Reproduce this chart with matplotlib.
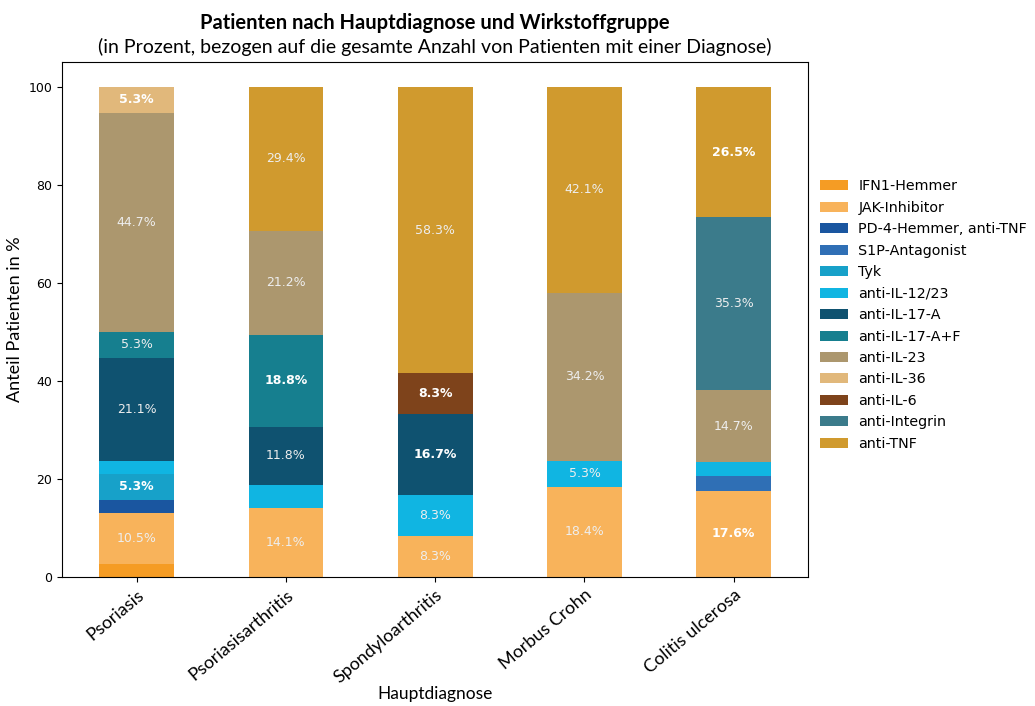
import matplotlib.pyplot as plt
import numpy as np

# Hauptdiagnosen (x-Achse)
diagnosen = ["Psoriasis", "Psoriasisarthritis", "Spondyloarthritis", "Morbus Crohn", "Colitis ulcerosa"]

# Wirkstoffgruppen, Reihenfolge von unten nach oben
gruppen = [
    "IFN1-Hemmer", "JAK-Inhibitor", "PD-4-Hemmer, anti-TNF", "S1P-Antagonist", "Tyk",
    "anti-IL-12/23", "anti-IL-17-A", "anti-IL-17-A+F", "anti-IL-23", "anti-IL-36",
    "anti-IL-6", "anti-Integrin", "anti-TNF",
]

# Anteile in % je Gruppe (Werte je Diagnose)
ifn1 = [2.6, 0, 0, 0, 0]
jak = [10.5, 14.1, 8.3, 18.4, 17.6]
pd4 = [2.6, 0, 0, 0, 0]
s1p = [0, 0, 0, 0, 2.9]
tyk = [5.3, 0, 0, 0, 0]
il12_23 = [2.6, 4.7, 8.3, 5.3, 2.9]
il17a = [21.1, 11.8, 16.7, 0, 0]
il17af = [5.3, 18.8, 0, 0, 0]
il23 = [44.7, 21.2, 0, 34.2, 14.7]
il36 = [5.3, 0, 0, 0, 0]
il6 = [0, 0, 8.3, 0, 0]
integrin = [0, 0, 0, 0, 35.3]
tnf = [0, 29.4, 58.3, 42.1, 26.5]

werte = [ifn1, jak, pd4, s1p, tyk, il12_23, il17a, il17af, il23, il36, il6, integrin, tnf]

farben = [
    "#f59c24", "#f8b35b", "#1a56a0", "#2f6fb5", "#17a1c9", "#10b5e2", "#0f5270",
    "#167f8f", "#ac976e", "#e1b87b", "#7e431b", "#3b7b8b", "#d09a2e",
]

# welche Beschriftungen fett dargestellt sind (Gruppe, Diagnose)
fett = {(9, 0), (4, 0), (7, 1), (10, 2), (6, 2), (12, 4), (1, 4)}

fig, ax = plt.subplots(figsize=(10.35, 7.06), dpi=100)
fig.subplots_adjust(left=0.06, right=0.781, top=0.912, bottom=0.183)

x = np.arange(len(diagnosen))
bottom = np.zeros(len(diagnosen))
for gi, (name, vals, col) in enumerate(zip(gruppen, werte, farben)):
    vals = np.array(vals, dtype=float)
    ax.bar(x, vals, width=0.5, bottom=bottom, color=col, label=name)
    for di, v in enumerate(vals):
        if v >= 5:
            bold = (gi, di) in fett
            ax.text(x[di], bottom[di] + v / 2, f"{v:.1f}%", ha="center", va="center",
                    fontsize=9, color="white" if bold else "#eeeeee",
                    fontweight="bold" if bold else "normal")
    bottom += vals

ax.set_xlim(-0.5, len(diagnosen) - 0.5)
ax.set_ylim(0, 105)
ax.set_yticks([0, 20, 40, 60, 80, 100])
ax.tick_params(axis="y", labelsize=9)
ax.set_xticks(x)
ax.set_xticklabels(diagnosen, rotation=40, ha="right", rotation_mode="anchor",
                   fontsize=13, family="Lato")
ax.set_ylabel("Anteil Patienten in %", fontsize=13, family="Lato")
ax.set_xlabel("Hauptdiagnose", fontsize=12.5, family="Lato", labelpad=0)

ax.legend(loc="upper left", bbox_to_anchor=(0.998, 0.797), frameon=False, fontsize=10.3,
          handlelength=2.0, handleheight=0.7, labelspacing=0.52, handletextpad=0.7)

mitte = (0.06 + 0.781) / 2
fig.text(mitte, 0.968, "Patienten nach Hauptdiagnose und Wirkstoffgruppe", ha="center",
         va="center", fontsize=14.5, fontweight="bold", family="Lato")
fig.text(mitte, 0.933, "(in Prozent, bezogen auf die gesamte Anzahl von Patienten mit einer Diagnose)",
         ha="center", va="center", fontsize=14, family="Lato")

fig.savefig("out.png", dpi=100)
